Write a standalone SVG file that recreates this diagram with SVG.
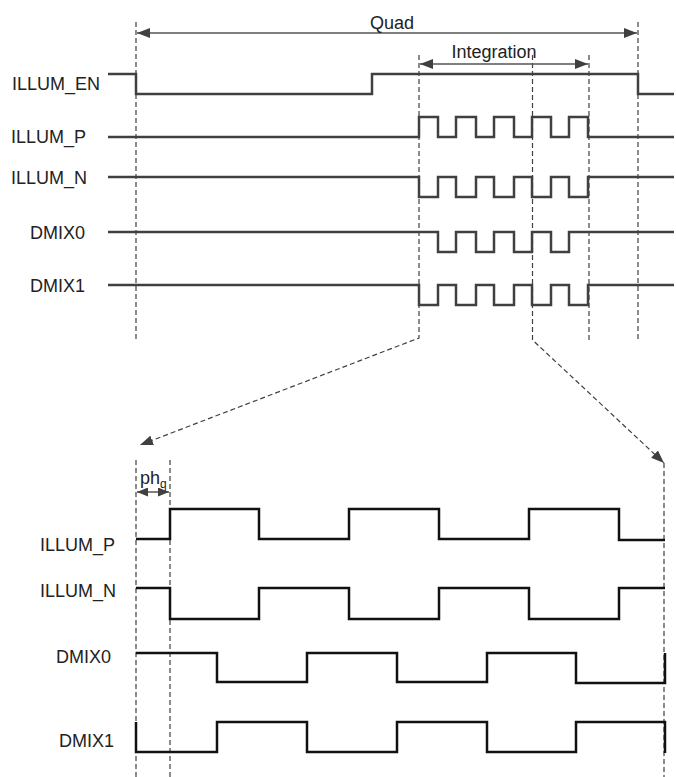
<svg xmlns="http://www.w3.org/2000/svg" width="676" height="777" viewBox="0 0 676 777">
<style>
.lbl{font-family:"Liberation Sans",Arial,sans-serif;font-size:18px;fill:#222}
.wt{fill:none;stroke:#404040;stroke-width:2.5;stroke-linejoin:miter}
.wb{fill:none;stroke:#111;stroke-width:2.5;stroke-linejoin:miter}
.dash{fill:none;stroke:#404040;stroke-width:1.2;stroke-dasharray:5,3}
.dim{fill:none;stroke:#555;stroke-width:1.5}
</style>
<defs>
<marker id="ah" markerUnits="userSpaceOnUse" markerWidth="14" markerHeight="10" refX="13" refY="5" orient="auto-start-reverse">
<path d="M0,0 L13,5 L0,10 z" fill="#404040"/>
</marker>
<marker id="ahs" markerUnits="userSpaceOnUse" markerWidth="11" markerHeight="9" refX="11" refY="4.5" orient="auto-start-reverse">
<path d="M0,0 L11,4.5 L0,9 z" fill="#404040"/>
</marker>
</defs>
<rect width="676" height="777" fill="#fff"/>

<g id="connectors">
<line class="dash" x1="136" y1="22" x2="136" y2="340"/>
<line class="dash" x1="638" y1="22" x2="638" y2="340"/>
<line class="dash" x1="589" y1="55" x2="589" y2="340"/>
<path class="dash" d="M419,55 V338 L140,445" marker-end="url(#ah)"/>
<path class="dash" d="M532.5,55 V340 L664,463" marker-end="url(#ah)"/>
<line class="dash" x1="664" y1="463" x2="664" y2="777"/>
<line class="dash" x1="136" y1="460" x2="136" y2="777"/>
<line class="dash" x1="170" y1="460" x2="170" y2="777"/>
<line class="dim" x1="137" y1="33" x2="637" y2="33" marker-start="url(#ah)" marker-end="url(#ah)"/>
<line class="dim" x1="420" y1="64" x2="588" y2="64" marker-start="url(#ah)" marker-end="url(#ah)"/>
<line class="dim" x1="137" y1="492" x2="169" y2="492" marker-start="url(#ahs)" marker-end="url(#ahs)"/>
</g>

<g id="annotations">
<text class="lbl" x="392" y="29" text-anchor="middle">Quad</text>
<text class="lbl" x="494" y="58" text-anchor="middle">Integration</text>
<text class="lbl" x="140" y="484">ph<tspan font-size="12" dy="4">q</tspan></text>
</g>

<g id="top-ILLUM_EN">
<text class="lbl" x="100" y="90" text-anchor="end">ILLUM_EN</text>
<path class="wt" d="M108,74 H136 V94 H372 V74 H638 V94 H674"/>
</g>
<g id="top-ILLUM_P">
<text class="lbl" x="86" y="143" text-anchor="end">ILLUM_P</text>
<path class="wt" d="M108,137 H419 V117 H438 V137 H456 V117 H476 V137 H494 V117 H514 V137 H532 V117 H551 V137 H569 V117 H588 V137 H674"/>
</g>
<g id="top-ILLUM_N">
<text class="lbl" x="87" y="184" text-anchor="end">ILLUM_N</text>
<path class="wt" d="M108,177 H419 V197 H438 V177 H456 V197 H476 V177 H494 V197 H514 V177 H532 V197 H551 V177 H569 V197 H588 V177 H674"/>
</g>
<g id="top-DMIX0">
<text class="lbl" x="85" y="239" text-anchor="end">DMIX0</text>
<path class="wt" d="M108,232 H438 V252 H456 V232 H476 V252 H494 V232 H514 V252 H532 V232 H551 V252 H569 V232 H674"/>
</g>
<g id="top-DMIX1">
<text class="lbl" x="85" y="292" text-anchor="end">DMIX1</text>
<path class="wt" d="M108,285 H419 V305 H438 V285 H456 V305 H476 V285 H494 V305 H514 V285 H532 V305 H551 V285 H569 V305 H588 V285 H674"/>
</g>

<g id="bottom-ILLUM_P">
<text class="lbl" x="115" y="551" text-anchor="end">ILLUM_P</text>
<path class="wb" d="M136,539 H170 V509 H259 V539 H349 V509 H439 V539 H529 V509 H619 V540 H665"/>
</g>
<g id="bottom-ILLUM_N">
<text class="lbl" x="116" y="597" text-anchor="end">ILLUM_N</text>
<path class="wb" d="M136,588 H170 V619 H259 V588 H349 V619 H439 V588 H529 V619 H619 V588 H665"/>
</g>
<g id="bottom-DMIX0">
<text class="lbl" x="111" y="663" text-anchor="end">DMIX0</text>
<path class="wb" d="M136,653 H217 V682 H307 V653 H397 V682 H487 V653 H576 V683 H665 V653"/>
</g>
<g id="bottom-DMIX1">
<text class="lbl" x="114" y="747" text-anchor="end">DMIX1</text>
<path class="wb" d="M136,722 V752 H217 V722 H307 V752 H397 V722 H487 V752 H576 V722 H665 V753"/>
</g>
</svg>
